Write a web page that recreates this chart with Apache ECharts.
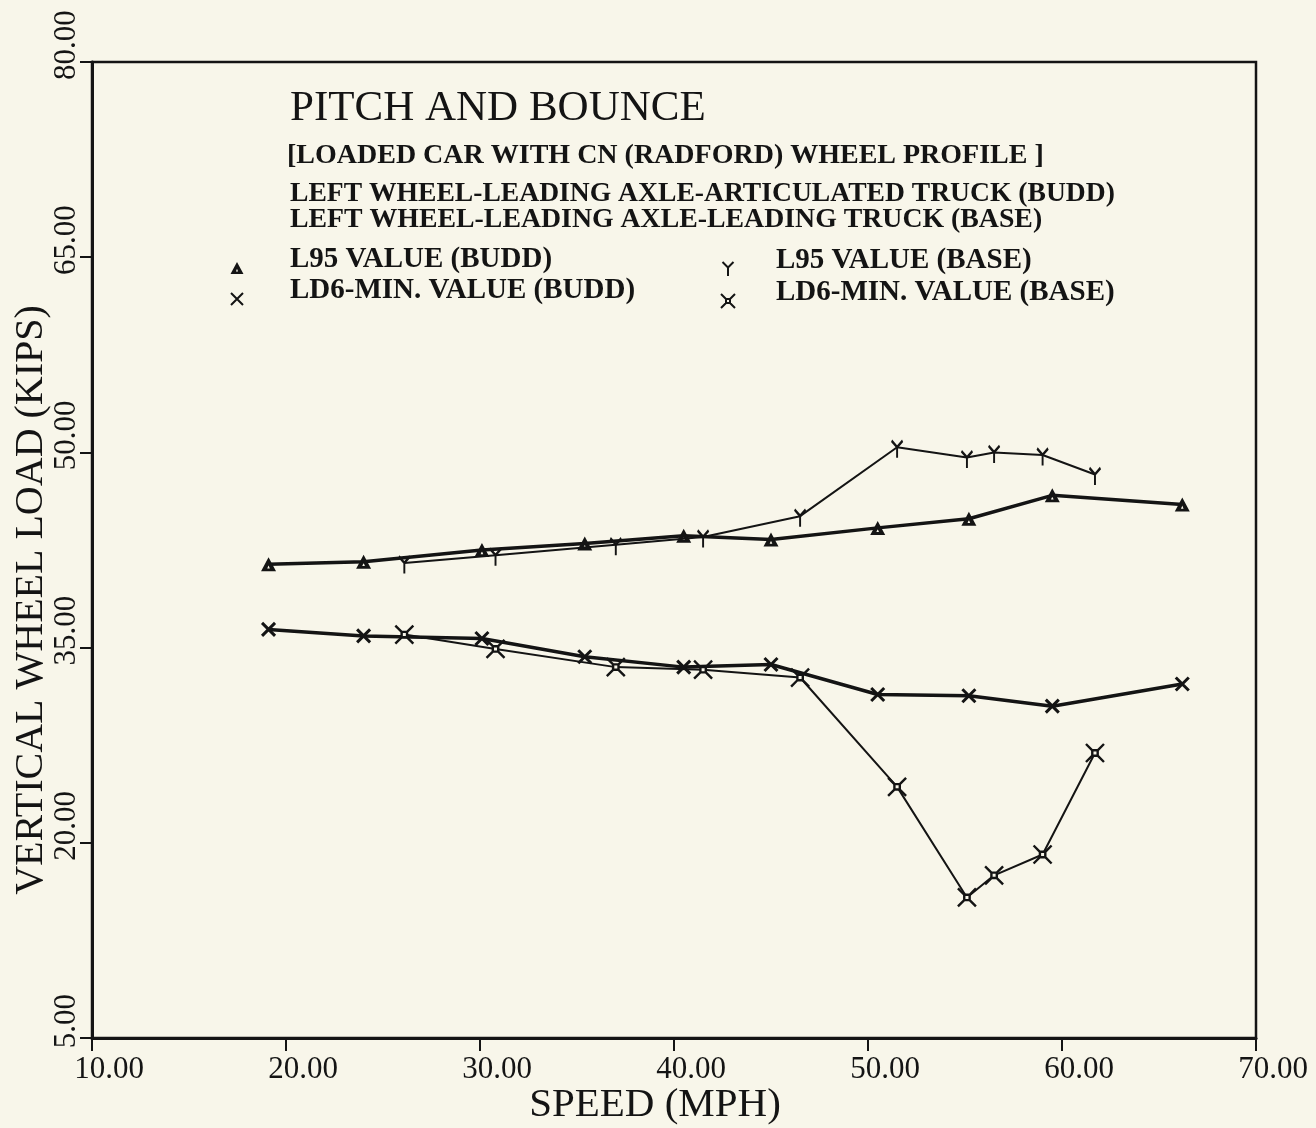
<!DOCTYPE html>
<html>
<head>
<meta charset="utf-8">
<script src="https://cdn.jsdelivr.net/npm/echarts@6/dist/echarts.min.js"></script>
<style>
  html, body { margin: 0; padding: 0; background: #f8f6ea; }
  #chart { width: 1316px; height: 1128px; }
</style>
</head>
<body>
<div id="chart"></div>
<script>
// Speeds (MPH) at which each truck configuration was run
const speedBudd = [19.1, 24.0, 30.1, 35.4, 40.5, 45.0, 50.5, 55.2, 59.5, 66.2];
const speedBase = [26.1, 30.8, 37.0, 41.5, 46.5, 51.5, 55.1, 56.5, 59.0, 61.7];

// Vertical wheel load (KIPS)
const l95Budd = [41.4, 41.6, 42.5, 43.0, 43.6, 43.3, 44.2, 44.9, 46.7, 46.0];
const ld6Budd = [36.4, 35.9, 35.7, 34.3, 33.5, 33.7, 31.4, 31.3, 30.5, 32.2];
const l95Base = [41.5, 42.1, 42.9, 43.5, 45.1, 50.4, 49.6, 50.0, 49.8, 48.3];
const ld6Base = [36.0, 34.9, 33.5, 33.3, 32.7, 24.3, 15.8, 17.5, 19.1, 26.9];

const seriesNames = ['L95 VALUE (BUDD)', 'LD6-MIN. VALUE (BUDD)', 'L95 VALUE (BASE)', 'LD6-MIN. VALUE (BASE)'];
const headingLines = [
  'PITCH AND BOUNCE',
  '[LOADED CAR WITH CN (RADFORD) WHEEL PROFILE ]',
  'LEFT WHEEL-LEADING AXLE-ARTICULATED TRUCK (BUDD)',
  'LEFT WHEEL-LEADING AXLE-LEADING TRUCK (BASE)'
];
const xTicks = { min: 10, max: 70, step: 10 };
const yTicks = { min: 5, max: 80, step: 15 };

const INK = '#141414';
const PAPER = '#f8f6ea';
const FONT = '"Liberation Serif", "Times New Roman", serif';

// Plotter-style marker glyphs (open strokes are separate segments so nothing gets filled)
const SYM_TRI = 'path://M7.5,0L15,14L0,14Z M7.5,8L6.2,11.2L8.8,11.2Z';
const SYM_X = 'path://M0,0L10,10M10,0L0,10';
const SYM_Y = 'path://M0,0L5,6M10,0L5,6M5,6L5,16';
const SYM_BOX = 'path://M0,0L7,7M20,0L13,7M20,20L13,13M0,20L7,13M7,7L13,7L13,13L7,13Z';

// Legend glyphs: same shapes, padded with empty points so each sits a little below its text line
const ICON_TRI = 'path://M6.5,-17L6.5,-17M6.5,13L6.5,13M6.5,0L13,12L0,12ZM6.5,6.8L5.4,9.6L7.6,9.6Z';
const ICON_X = 'path://M6,-17L6,-17M6,13L6,13M0,0L12,12M12,0L0,12';
const ICON_Y = 'path://M5.5,-16L5.5,-16M0,0L5.5,5.5M11,0L5.5,5.5M5.5,5.5L5.5,14';
const ICON_BOX = 'path://M7,-16L7,-16M0,0L5,5M14,0L9,5M14,14L9,9M0,14L5,9M5,5L9,5L9,9L5,9Z';

const zip = (xs, ys) => xs.map((x, i) => [x, ys[i]]);

const chart = echarts.init(document.getElementById('chart'), null, { renderer: 'canvas' });

const titleStyle = (size, weight) => ({
  fontFamily: FONT, fontSize: size, fontWeight: weight, color: INK, lineHeight: size
});
const legendText = { fontFamily: FONT, fontSize: 29, fontWeight: 'bold', color: INK, lineHeight: 26 };

const option = {
  backgroundColor: PAPER,
  animation: false,
  title: [
    { text: headingLines[0], left: 290, top: 87, padding: 0, textStyle: titleStyle(43, 'normal') },
    { text: headingLines[1], left: 287, top: 142, padding: 0, textStyle: titleStyle(28, 'bold') },
    { text: headingLines[2], left: 290, top: 180, padding: 0, textStyle: titleStyle(27.6, 'bold') },
    { text: headingLines[3], left: 290, top: 206, padding: 0, textStyle: titleStyle(27.8, 'bold') }
  ],
  legend: [
    {
      orient: 'vertical', left: 230, top: 245, padding: 0,
      itemWidth: 96, itemHeight: 30, itemGap: 0, selectedMode: false,
      textStyle: legendText,
      data: [
        { name: seriesNames[0], icon: ICON_TRI, itemStyle: { color: INK, borderWidth: 0 } },
        { name: seriesNames[1], icon: ICON_X, itemStyle: { color: INK, borderColor: INK, borderWidth: 2 } }
      ]
    },
    {
      orient: 'vertical', left: 720, top: 245, padding: 0,
      itemWidth: 86, itemHeight: 30, itemGap: 0, selectedMode: false,
      textStyle: legendText,
      data: [
        { name: seriesNames[2], icon: ICON_Y, itemStyle: { color: INK, borderColor: INK, borderWidth: 2 } },
        { name: seriesNames[3], icon: ICON_BOX, itemStyle: { color: PAPER, borderColor: INK, borderWidth: 2 } }
      ]
    }
  ],
  grid: {
    left: 92, right: 60, top: 62, bottom: 90,
    outerBoundsMode: 'none', containLabel: false,
    show: true, borderColor: INK, borderWidth: 2.5, backgroundColor: 'transparent'
  },
  xAxis: {
    type: 'value', min: xTicks.min, max: xTicks.max, interval: xTicks.step,
    name: 'SPEED (MPH)', nameLocation: 'middle', nameGap: 47, nameMoveOverlap: false,
    nameTextStyle: { fontFamily: FONT, fontSize: 41, color: INK, lineHeight: 41, padding: [0, 38, 0, 0] },
    axisLine: { show: true, lineStyle: { color: INK, width: 3 } },
    axisTick: { show: true, inside: false, length: 13, lineStyle: { color: INK, width: 2 } },
    axisLabel: {
      margin: 16, fontFamily: FONT, fontSize: 31, color: INK, padding: [0, 0, 0, 34],
      hideOverlap: false,
      formatter: v => v.toFixed(2)
    },
    splitLine: { show: false }
  },
  yAxis: {
    type: 'value', min: yTicks.min, max: yTicks.max, interval: yTicks.step,
    name: 'VERTICAL WHEEL LOAD (KIPS)', nameLocation: 'middle', nameGap: 41, nameRotate: 90,
    nameMoveOverlap: false,
    nameTextStyle: { fontFamily: FONT, fontSize: 40, color: INK, lineHeight: 40, padding: [0, 100, 0, 0] },
    axisLine: { show: true, lineStyle: { color: INK, width: 3 } },
    axisTick: { show: true, inside: false, length: 12, lineStyle: { color: INK, width: 2 } },
    axisLabel: {
      margin: 10, rotate: 90, fontFamily: FONT, fontSize: 31, color: INK, padding: [0, 0, 0, 34],
      hideOverlap: false,
      formatter: v => v.toFixed(2)
    },
    splitLine: { show: false }
  },
  series: [
    {
      name: seriesNames[2], type: 'line', data: zip(speedBase, l95Base),
      symbol: SYM_Y, symbolSize: [11, 17], symbolOffset: [0, 2],
      lineStyle: { color: INK, width: 2 },
      itemStyle: { color: INK, borderColor: INK, borderWidth: 2.4 },
      emphasis: { disabled: true }, silent: true
    },
    {
      name: seriesNames[3], type: 'line', data: zip(speedBase, ld6Base),
      symbol: SYM_BOX, symbolSize: 18,
      lineStyle: { color: INK, width: 2 },
      itemStyle: { color: PAPER, borderColor: INK, borderWidth: 2.4 },
      emphasis: { disabled: true }, silent: true
    },
    {
      name: seriesNames[0], type: 'line', data: zip(speedBudd, l95Budd),
      symbol: SYM_TRI, symbolSize: [15, 14],
      lineStyle: { color: INK, width: 3.5 },
      itemStyle: { color: INK, borderWidth: 0 },
      emphasis: { disabled: true }, silent: true
    },
    {
      name: seriesNames[1], type: 'line', data: zip(speedBudd, ld6Budd),
      symbol: SYM_X, symbolSize: 13,
      lineStyle: { color: INK, width: 3.5 },
      itemStyle: { color: INK, borderColor: INK, borderWidth: 3 },
      emphasis: { disabled: true }, silent: true
    }
  ]
};

chart.setOption(option);
</script>
</body>
</html>
